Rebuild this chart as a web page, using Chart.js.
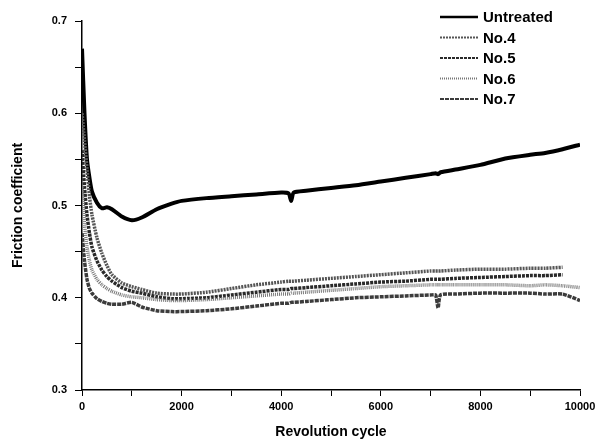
<!DOCTYPE html>
<html>
<head>
<meta charset="utf-8">
<script src="https://cdn.jsdelivr.net/npm/chart.js@4.4.1/dist/chart.umd.min.js"></script>
<style>
  html, body { margin: 0; padding: 0; background: #fff; }
  #wrap { width: 600px; height: 445px; }
</style>
</head>
<body>
<div id="wrap"><canvas id="myChart" width="600" height="445"></canvas></div>
<script>
let cycles = [0, 50, 100, 150, 200, 300, 400, 500, 600, 800, 1000, 1200, 1500, 1800, 2000, 2500, 3000, 3500, 4000, 4150, 4200, 4250, 4500, 5000, 5500, 6000, 6500, 7000, 7100, 7150, 7200, 7500, 8000, 8500, 9000, 9300, 9650, 10000];

let untreated = [0.67, 0.60, 0.55, 0.53, 0.515, 0.503, 0.497, 0.498, 0.496, 0.488, 0.484, 0.487, 0.496, 0.502, 0.505, 0.508, 0.510, 0.512, 0.514, 0.513, 0.505, 0.514, 0.516, 0.519, 0.522, 0.526, 0.530, 0.534, 0.535, 0.534, 0.536, 0.539, 0.544, 0.551, 0.555, 0.557, 0.561, 0.566];
let no4 = [0.60, 0.57, 0.54, 0.51, 0.49, 0.465, 0.448, 0.435, 0.425, 0.416, 0.412, 0.409, 0.405, 0.404, 0.404, 0.406, 0.410, 0.414, 0.417, 0.418, 0.418, 0.418, 0.419, 0.421, 0.423, 0.425, 0.427, 0.429, 0.429, 0.429, 0.429, 0.430, 0.431, 0.431, 0.432, 0.432, 0.433, null];
let no5 = [0.56, 0.52, 0.49, 0.47, 0.455, 0.44, 0.43, 0.423, 0.418, 0.411, 0.407, 0.405, 0.401, 0.399, 0.399, 0.400, 0.403, 0.406, 0.409, 0.409, 0.410, 0.410, 0.411, 0.413, 0.415, 0.417, 0.418, 0.420, 0.420, 0.420, 0.420, 0.421, 0.422, 0.423, 0.424, 0.424, 0.425, null];
let no6 = [0.52, 0.48, 0.455, 0.44, 0.43, 0.42, 0.414, 0.41, 0.407, 0.403, 0.401, 0.400, 0.398, 0.397, 0.397, 0.398, 0.400, 0.402, 0.404, 0.404, 0.405, 0.405, 0.406, 0.408, 0.410, 0.412, 0.413, 0.414, 0.414, 0.414, 0.414, 0.414, 0.414, 0.414, 0.413, 0.414, 0.413, 0.411];
let no7 = [0.47, 0.44, 0.42, 0.41, 0.405, 0.399, 0.396, 0.394, 0.393, 0.393, 0.395, 0.390, 0.386, 0.385, 0.385, 0.386, 0.388, 0.391, 0.394, 0.394, 0.395, 0.395, 0.396, 0.398, 0.400, 0.401, 0.402, 0.403, 0.403, 0.389, 0.403, 0.404, 0.405, 0.405, 0.405, 0.404, 0.404, 0.397];

let seriesNames = ["Untreated", "No.4", "No.5", "No.6", "No.7"];
let seriesValues = [untreated, no4, no5, no6, no7];
let seriesColors = ["#000000", "#555555", "#2a2a2a", "#777777", "#3c3c3c"];
let seriesDash = [[], [2, 1], [3, 1], [1, 1], [4, 1]];

let yTicks = [0.3, 0.4, 0.5, 0.6, 0.7];
let xTicks = [0, 2000, 4000, 6000, 8000, 10000];

const font = "'Liberation Sans', Arial, sans-serif";

// legend drawn in the top right corner of the plot, in series order
const cornerLegend = {
  id: "cornerLegend",
  afterDraw(chart) {
    const ctx = chart.ctx;
    ctx.save();
    seriesNames.forEach((name, i) => {
      let y = 17 + i * 20.5;
      ctx.strokeStyle = seriesColors[i];
      ctx.lineWidth = i === 0 ? 2.5 : 2;
      ctx.setLineDash(seriesDash[i]);
      ctx.beginPath();
      ctx.moveTo(440, y);
      ctx.lineTo(478, y);
      ctx.stroke();
      ctx.setLineDash([]);
      ctx.fillStyle = "#000";
      ctx.font = "bold 15px " + font;
      ctx.textBaseline = "middle";
      ctx.fillText(name, 483, y + 1);
    });
    ctx.restore();
  }
};

// draw lower curves first, untreated last (on top)
let datasets = seriesNames.map((name, i) => ({
  label: name,
  data: cycles.map((c, j) => ({ x: c, y: seriesValues[i][j] })),
  borderColor: seriesColors[i],
  borderDash: seriesDash[i],
  borderWidth: i === 0 ? 4 : 3.5,
  pointRadius: 0,
  tension: 0.2,
  spanGaps: false
})).reverse();

const ctx = document.getElementById("myChart").getContext("2d");
const chart = new Chart(ctx, {
  type: "line",
  data: { datasets: datasets },
  options: {
    responsive: false,
    animation: false,
    layout: { padding: { left: 0, right: 20, top: 21, bottom: 0 } },
    plugins: {
      legend: { display: false },
      tooltip: { enabled: false }
    },
    scales: {
      x: {
        type: "linear",
        min: 0,
        max: 10000,
        afterFit: s => { s.height = 55; },
        afterBuildTicks: s => { s.ticks = []; for (let v = 0; v <= 10000; v += 1000) s.ticks.push({ value: v }); },
        ticks: {
          callback: v => xTicks.includes(v) ? String(v) : "",
          maxRotation: 0,
          autoSkip: false,
          padding: 4,
          color: "#000",
          font: { family: font, size: 11, weight: "bold" }
        },
        grid: { drawOnChartArea: false, tickLength: 6, color: "#000", tickColor: "#000", tickWidth: 1 },
        border: { color: "#000", width: 1.5 },
        title: {
          display: true,
          text: "Revolution cycle",
          color: "#000",
          padding: { top: 6 },
          font: { family: font, size: 14, weight: "bold" }
        }
      },
      y: {
        min: 0.3,
        max: 0.7,
        afterFit: s => { s.width = 82; },
        afterBuildTicks: s => { s.ticks = []; for (let k = 0; k <= 8; k++) s.ticks.push({ value: 0.3 + k * 0.05 }); },
        ticks: {
          callback: v => {
            let t = yTicks.find(y => Math.abs(y - v) < 1e-6);
            return t !== undefined ? t.toFixed(1) : "";
          },
          autoSkip: false,
          padding: 8,
          color: "#000",
          font: { family: font, size: 11, weight: "bold" }
        },
        grid: { drawOnChartArea: false, tickLength: 7, color: "#000", tickColor: "#000", tickWidth: 1 },
        border: { color: "#000", width: 1.5 },
        title: {
          display: true,
          text: "Friction coefficient",
          color: "#000",
          padding: { top: 10, bottom: 10 },
          font: { family: font, size: 14, weight: "bold" }
        }
      }
    }
  },
  plugins: [cornerLegend]
});
</script>
</body>
</html>
